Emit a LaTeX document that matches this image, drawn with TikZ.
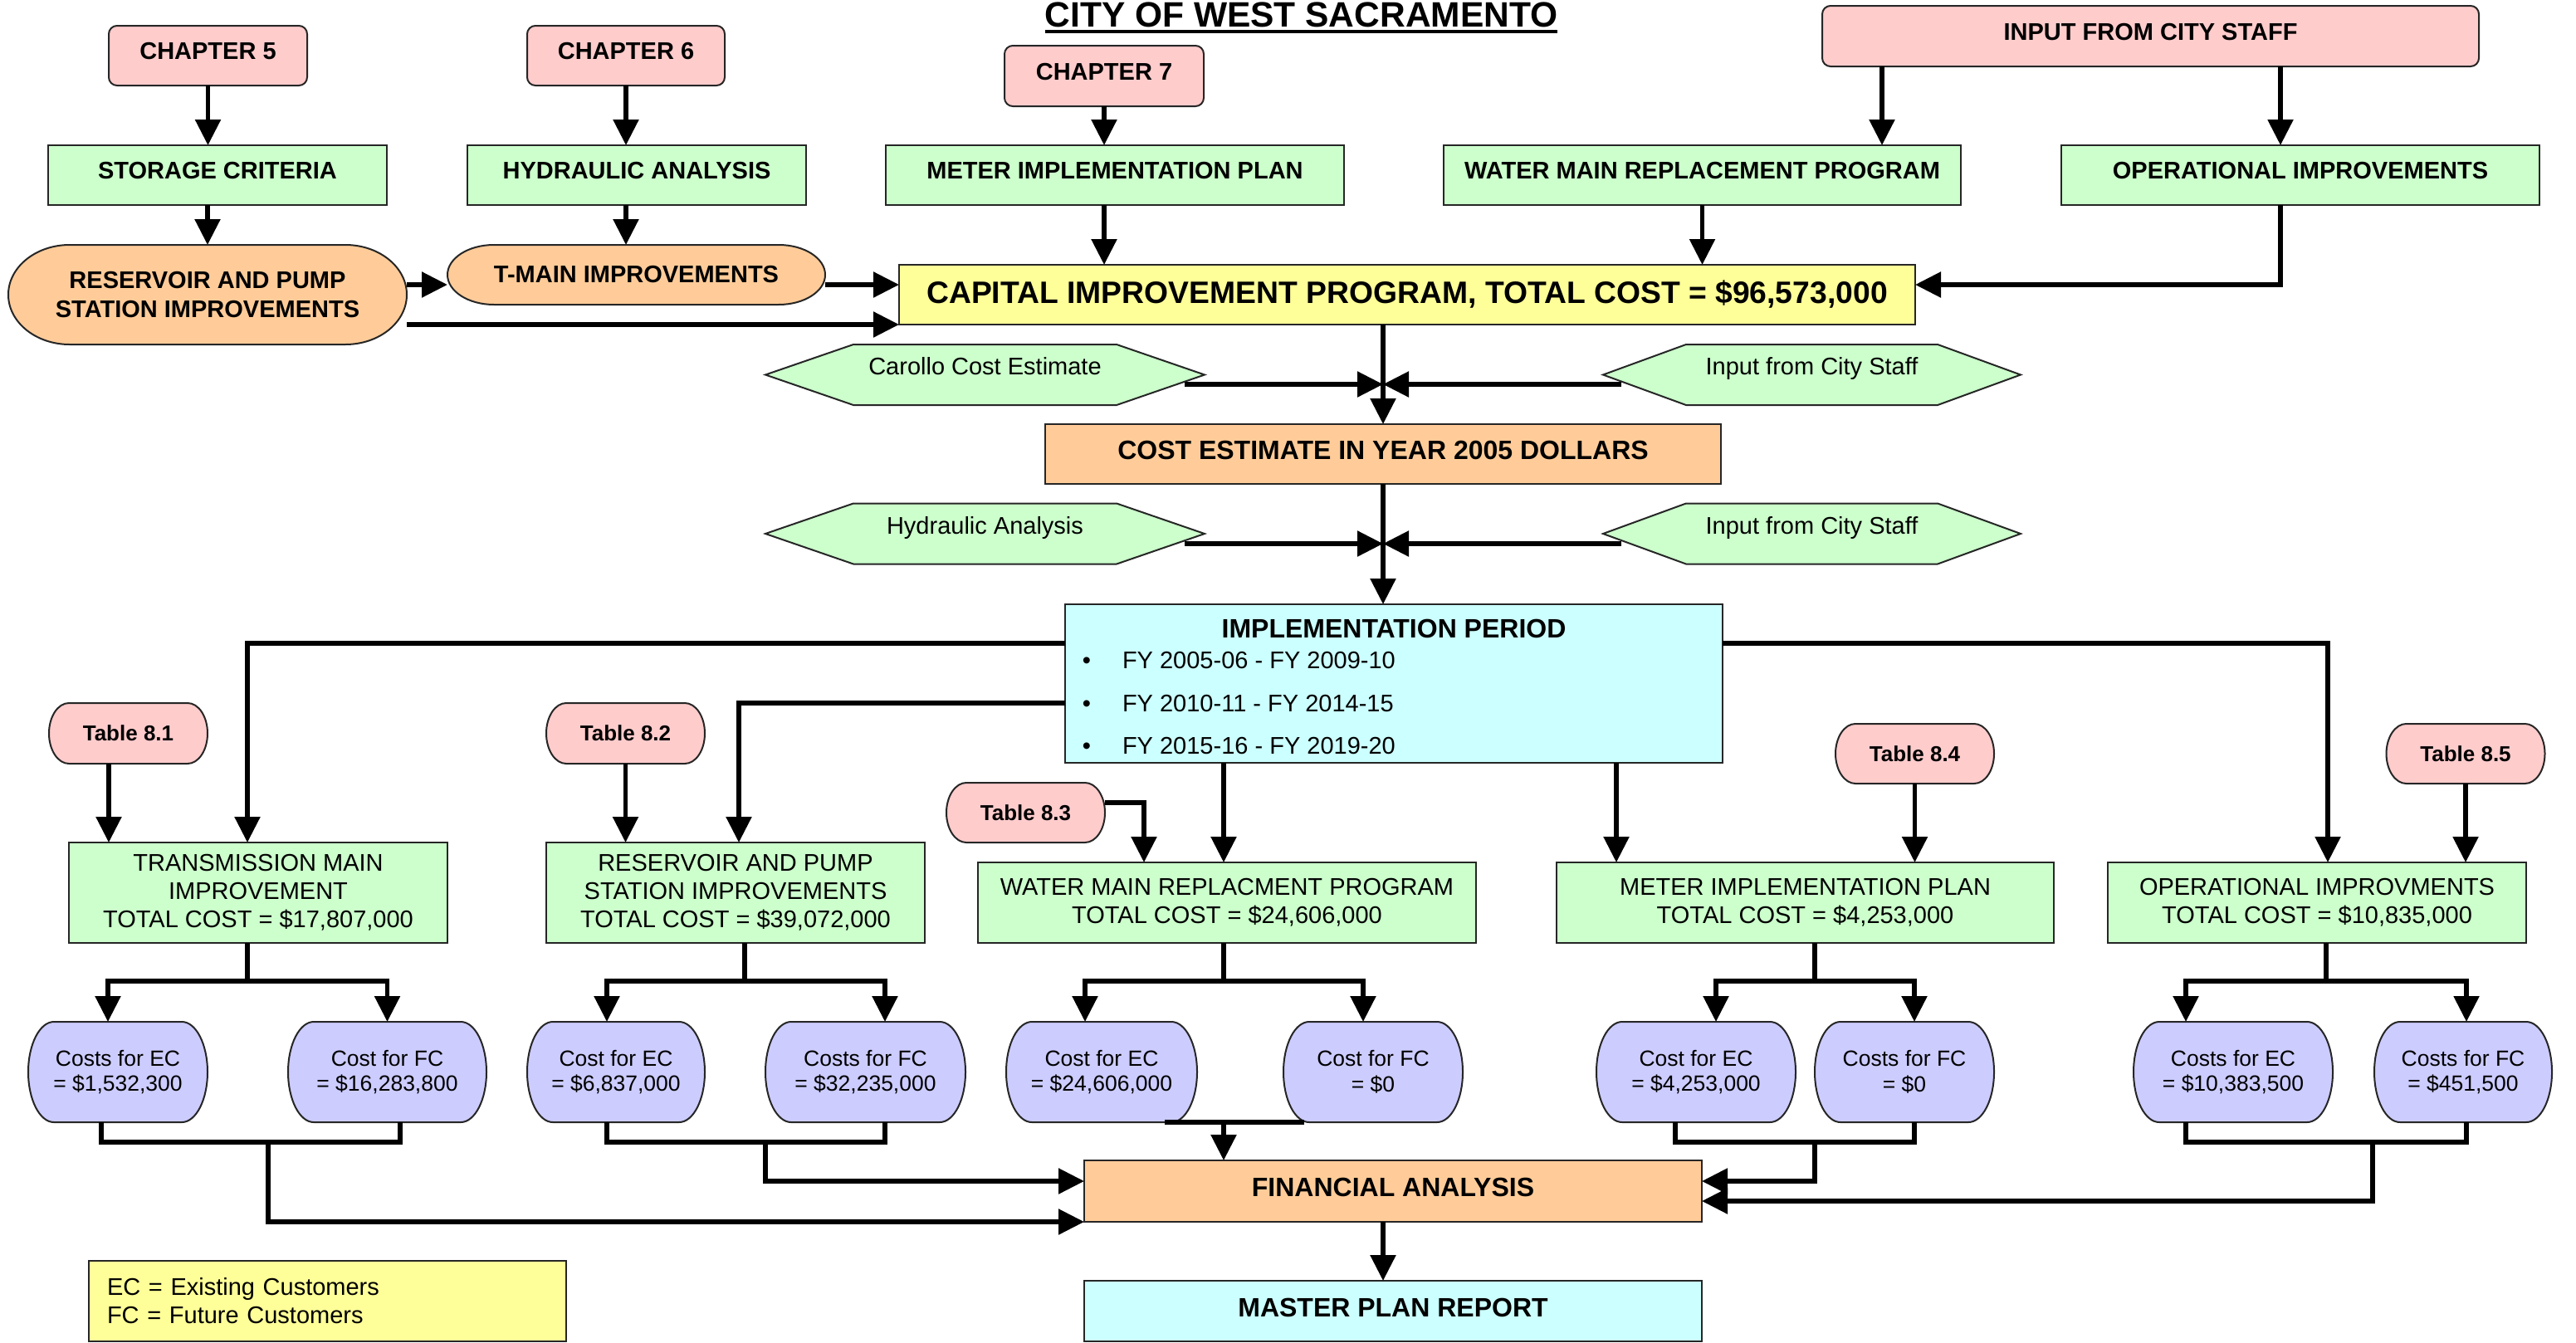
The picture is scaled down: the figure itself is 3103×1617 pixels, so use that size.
\documentclass[tikz,border=0pt]{standalone}
\usepackage{fontspec}
\setmainfont{Liberation Sans}
\usetikzlibrary{arrows.meta}

\definecolor{pinkF}{HTML}{FFCCCC}
\definecolor{greenF}{HTML}{CCFFCC}
\definecolor{orangeF}{HTML}{FFCC99}
\definecolor{yellowF}{HTML}{FFFF99}
\definecolor{cyanF}{HTML}{CCFFFF}
\definecolor{purpleF}{HTML}{CCCCFF}

% font sizes
\newcommand\szT{\fontsize{21.25}{25}\selectfont\bfseries}
\newcommand\szH{\fontsize{18.65}{22}\selectfont\bfseries}
\newcommand\szB{\fontsize{16}{19}\selectfont\bfseries}
\newcommand\szL{\fontsize{14.5}{17.5}\selectfont\bfseries}
\newcommand\szN{\fontsize{14.5}{17}\selectfont}
\newcommand\szC{\fontsize{13.25}{15.25}\selectfont}
\newcommand\szS{\fontsize{13}{15}\selectfont\bfseries}

% pill with elliptical ends: name, fill, cx, cy, w, h, end radius, font, text
\newcommand\pillnode[9]{%
  \pgfmathsetmacro\shL{#3-#5/2}\pgfmathsetmacro\shR{#3+#5/2}%
  \pgfmathsetmacro\shT{#4-#6/2}\pgfmathsetmacro\shB{#4+#6/2}%
  \pgfmathsetmacro\shLi{\shL+#7}\pgfmathsetmacro\shRi{\shR-#7}%
  \pgfmathsetmacro\shKx{0.5523*#7}\pgfmathsetmacro\shKy{0.5523*#6/2}%
  \filldraw[shapeline, fill=#2] (\shLi,\shT) -- (\shRi,\shT)
     .. controls (\shRi+\shKx,\shT) and (\shR,#4-\shKy) .. (\shR,#4)
     .. controls (\shR,#4+\shKy) and (\shRi+\shKx,\shB) .. (\shRi,\shB)
     -- (\shLi,\shB)
     .. controls (\shLi-\shKx,\shB) and (\shL,#4+\shKy) .. (\shL,#4)
     .. controls (\shL,#4-\shKy) and (\shLi-\shKx,\shT) .. (\shLi,\shT) -- cycle;
  \node[txt, wh={#5}{#6}, font=#8] (#1) at (#3,#4) {#9};
}

% flat hexagon: name, cx, cy, w, h, slant, text
\newcommand\hexnode[7]{%
  \pgfmathsetmacro\shL{#2-#4/2}\pgfmathsetmacro\shR{#2+#4/2}%
  \pgfmathsetmacro\shT{#3-#5/2}\pgfmathsetmacro\shB{#3+#5/2}%
  \filldraw[shapeline, fill=greenF] (\shL,#3) -- (\shL+#6,\shT) -- (\shR-#6,\shT)
     -- (\shR,#3) -- (\shR-#6,\shB) -- (\shL+#6,\shB) -- cycle;
  \node[txt, wh={#4}{#5}, font=\szN, tc={10.4pt}{10.4pt}] (#1) at (#2,#3) {#7};
}

\begin{document}
\begin{tikzpicture}[x=0.5pt, y=-0.5pt,
  txt/.style={inner sep=0pt, outer sep=0pt, align=center, text=black},
  wh/.style 2 args={minimum width=#1*0.5pt, minimum height=#2*0.5pt},
  tc/.style 2 args={text height=#1, text depth=#2},
  bframe/.style={draw=black!85, line width=1pt},
  shapeline/.style={draw=black!85, line width=1pt},
  chap/.style={txt, bframe, fill=pinkF, rounded corners=5pt, font=\szL, tc={10.4pt}{5.5pt}},
  gtop/.style={txt, bframe, fill=greenF, font=\szL, tc={10.4pt}{6pt}},
  gbot/.style={txt, bframe, fill=greenF, font=\szN},
  conn/.style={line width=2.75pt, black},
  arr/.style={conn, -{Triangle[length=15.5pt,width=15pt]}}]

\useasboundingbox (0,0) rectangle (3103,1617);

% title
\node[txt, font=\szT, anchor=base] (title) at (1567.5,32) {CITY OF WEST SACRAMENTO};
\draw[line width=2pt] ([yshift=-3pt]title.base west) -- ([yshift=-3pt]title.base east);

% sources
\node[chap, wh={239}{72}] (ch5) at (250.5,67) {CHAPTER 5};
\node[chap, wh={238}{72}] (ch6) at (754,67) {CHAPTER 6};
\node[chap, wh={240}{73}] (ch7) at (1330,91.5) {CHAPTER 7};
\node[chap, wh={791}{73}] (staff) at (2590.5,43.5) {INPUT FROM CITY STAFF};

\node[gtop, wh={408}{72}] (sc) at (262,211) {STORAGE CRITERIA};
\node[gtop, wh={408}{72}] (ha) at (767,211) {HYDRAULIC ANALYSIS};
\node[gtop, wh={552}{72}] (mip) at (1343,211) {METER IMPLEMENTATION PLAN};
\node[gtop, wh={623}{72}] (wmrp) at (2050.5,211) {WATER MAIN REPLACEMENT PROGRAM};
\node[gtop, wh={576}{72}] (oi) at (2771,211) {OPERATIONAL IMPROVEMENTS};

\pillnode{rps}{orangeF}{250}{355}{480}{120}{74}{\szL}{RESERVOIR AND PUMP\\STATION IMPROVEMENTS}
\pillnode{tm}{orangeF}{766.5}{331}{455}{72}{56}{\szL}{T-MAIN IMPROVEMENTS}

\node[txt, bframe, fill=yellowF, font=\szH, tc={13.35pt}{2.5pt}, wh={1224}{72}] (cip) at (1695,355)
  {CAPITAL IMPROVEMENT PROGRAM, TOTAL COST = \$96,573,000};

% estimate inputs
\hexnode{cce}{1186.5}{451.5}{529}{73}{106}{Carollo Cost Estimate}
\hexnode{ifs1}{2182.5}{451.5}{503}{73}{100}{Input from City Staff}
\hexnode{hya}{1186.5}{643}{529}{73}{106}{Hydraulic Analysis}
\hexnode{ifs2}{2182.5}{643}{503}{73}{100}{Input from City Staff}

\node[txt, bframe, fill=orangeF, font=\szB, tc={11.5pt}{5pt}, wh={814}{72}] (ce) at (1666,547)
  {COST ESTIMATE IN YEAR 2005 DOLLARS};

% implementation period
\node[txt, bframe, fill=cyanF, wh={792}{191}] (ip) at (1679,823.5) {};
\node[txt, font=\szB, tc={11.5pt}{0pt}] (ipt) at (1679,757) {IMPLEMENTATION PERIOD};
\node[txt, font=\szN, tc={10.4pt}{0pt}] (ipb1) at (1309,795) {\textbullet};
\node[txt, font=\szN, tc={10.4pt}{0pt}] (ipb2) at (1309,847) {\textbullet};
\node[txt, font=\szN, tc={10.4pt}{0pt}] (ipb3) at (1309,898) {\textbullet};
\node[txt, font=\szN, tc={10.4pt}{0pt}, anchor=west] (ipl1) at (1352,795) {FY 2005-06 - FY 2009-10};
\node[txt, font=\szN, tc={10.4pt}{0pt}, anchor=west] (ipl2) at (1352,847) {FY 2010-11 - FY 2014-15};
\node[txt, font=\szN, tc={10.4pt}{0pt}, anchor=west] (ipl3) at (1352,898) {FY 2015-16 - FY 2019-20};

% tables
\pillnode{t81}{pinkF}{154.5}{883.5}{191}{73}{24}{\szS}{Table 8.1}
\pillnode{t82}{pinkF}{753.5}{883.5}{191}{73}{24}{\szS}{Table 8.2}
\pillnode{t83}{pinkF}{1235.5}{979}{191}{72}{24}{\szS}{Table 8.3}
\pillnode{t84}{pinkF}{2306.5}{908}{191}{72}{24}{\szS}{Table 8.4}
\pillnode{t85}{pinkF}{2970}{908}{191}{72}{24}{\szS}{Table 8.5}

% programs
\node[gbot, wh={456}{121}] (tmi) at (311,1075.5) {TRANSMISSION MAIN\\IMPROVEMENT\\TOTAL COST = \$17,807,000};
\node[gbot, wh={456}{121}] (rpsb) at (886,1075.5) {RESERVOIR AND PUMP\\STATION IMPROVEMENTS\\TOTAL COST = \$39,072,000};
\node[gbot, wh={600}{97}] (wmrpb) at (1478,1087.5) {WATER MAIN REPLACMENT PROGRAM\\TOTAL COST = \$24,606,000};
\node[gbot, wh={599}{97}] (mb) at (2174.5,1087.5) {METER IMPLEMENTATION PLAN\\TOTAL COST = \$4,253,000};
\node[gbot, wh={504}{97}] (oib) at (2791,1087.5) {OPERATIONAL IMPROVMENTS\\TOTAL COST = \$10,835,000};

% cost splits
\pillnode{c1}{purpleF}{142}{1291.5}{216}{121}{31}{\szC}{Costs for EC\\= \$1,532,300}
\pillnode{c2}{purpleF}{466.5}{1291.5}{239}{121}{31}{\szC}{Cost for FC\\= \$16,283,800}
\pillnode{c3}{purpleF}{742}{1291.5}{214}{121}{31}{\szC}{Cost for EC\\= \$6,837,000}
\pillnode{c4}{purpleF}{1042.5}{1291.5}{241}{121}{31}{\szC}{Costs for FC\\= \$32,235,000}
\pillnode{c5}{purpleF}{1327}{1291.5}{230}{121}{31}{\szC}{Cost for EC\\= \$24,606,000}
\pillnode{c6}{purpleF}{1654}{1291.5}{216}{121}{31}{\szC}{Cost for FC\\= \$0}
\pillnode{c7}{purpleF}{2043}{1291.5}{240}{121}{31}{\szC}{Cost for EC\\= \$4,253,000}
\pillnode{c8}{purpleF}{2294}{1291.5}{216}{121}{31}{\szC}{Costs for FC\\= \$0}
\pillnode{c9}{purpleF}{2690}{1291.5}{240}{121}{31}{\szC}{Costs for EC\\= \$10,383,500}
\pillnode{c10}{purpleF}{2967}{1291.5}{214}{121}{31}{\szC}{Costs for FC\\= \$451,500}

\node[txt, bframe, fill=orangeF, font=\szB, tc={11.5pt}{5pt}, wh={744}{74}] (fa) at (1678,1435) {FINANCIAL ANALYSIS};
\node[txt, bframe, fill=cyanF, font=\szB, tc={11.5pt}{5pt}, wh={744}{73}] (mpr) at (1678,1579.5) {MASTER PLAN REPORT};

\node[txt, bframe, fill=yellowF, font=\szN, wh={575}{97}, align=left, text width=265.5pt, inner xsep=11pt] (leg) at (394.5,1567.5)
  {EC = Existing Customers\\FC = Future Customers};

% ---- connectors: top part
\draw[arr] (ch5.south) -- (ch5.south |- sc.north);
\draw[arr] (sc.south -| rps.north) -- (rps.north);
\draw[arr] (ch6.south) -- (ch6.south |- ha.north);
\draw[arr] (ha.south -| ch6.south) -- (ch6.south |- tm.north);
\draw[arr] (ch7.south) -- (ch7.south |- mip.north);
\draw[arr] (mip.south -| ch7.south) -- (ch7.south |- cip.north);
\coordinate (s1) at ([xshift=36pt]staff.south west);
\coordinate (s2) at ([xshift=-119.5pt]staff.south east);
\draw[arr] (s1) -- (s1 |- wmrp.north);
\draw[arr] (s2) -- (s2 |- oi.north);
\draw[arr] (wmrp.south) -- (wmrp.south |- cip.north);
\coordinate (cipE) at ([yshift=6pt]cip.east);
\draw[arr] (s2 |- oi.south) -- (s2 |- cipE) -- (cipE);

\coordinate (tmW) at ([yshift=-6pt]tm.west);
\draw[arr] (tmW -| rps.east) -- (tmW);
\coordinate (cipW) at ([yshift=6pt]cip.west);
\draw[arr] (cipW -| tm.east) -- (cipW);
\draw[arr] (cip.south west -| rps.east) -- (cip.south west);

% ---- estimate column
\coordinate (j1) at ([yshift=24pt]ce.north);
\coordinate (j2) at ([yshift=-36pt]ce.south);
\draw[arr] (cip.south -| ce.north) -- (ce.north);
\draw[arr] ([xshift=-12pt,yshift=-5.75pt]cce.east) -- (j1);
\draw[arr] ([xshift=11pt,yshift=-5.75pt]ifs1.west) -- (j1);
\draw[arr] ([xshift=-12pt,yshift=-6pt]hya.east) -- (j2);
\draw[arr] ([xshift=11pt,yshift=-6pt]ifs2.west) -- (j2);
\draw[arr] (ce.south) -- (ce.south |- ip.north);

% ---- implementation period to programs
\draw[arr] ([yshift=24.25pt]ip.west) -| ([xshift=-6.5pt]tmi.north);
\draw[arr] ([yshift=-11.75pt]ip.west) -| ([xshift=2pt]rpsb.north);
\draw[arr] ([yshift=24.25pt]ip.east) -| ([xshift=6.5pt]oib.north);
\coordinate (w1) at ([xshift=-2pt]wmrpb.north);
\coordinate (m1) at ([xshift=-113.75pt]mb.north);
\draw[arr] (ip.south -| w1) -- (w1);
\draw[arr] (ip.south -| m1) -- (m1);

% ---- tables to programs
\coordinate (a81) at ([xshift=24pt]tmi.north west);
\draw[arr] (t81.south -| a81) -- (a81);
\draw[arr] (t82.south) -- (t82.south |- rpsb.north);
\draw[arr] ([yshift=6pt]t83.east) -| ([xshift=100pt]wmrpb.north west);
\draw[arr] (t84.south) -- (t84.south |- mb.north);
\draw[arr] (t85.south) -- (t85.south |- oib.north);

% ---- programs split into EC / FC costs
\coordinate (f1) at ([xshift=-6.5pt]tmi.south);
\draw[arr] (f1) -- ++(0,46) -| ([xshift=-6pt]c1.north);
\draw[arr] (f1) -- ++(0,46) -| (c2.north);
\coordinate (f2) at ([xshift=5.5pt]rpsb.south);
\draw[arr] (f2) -- ++(0,46) -| ([xshift=-5.5pt]c3.north);
\draw[arr] (f2) -- ++(0,46) -| ([xshift=11.75pt]c4.north);
\coordinate (f3) at ([xshift=-2pt]wmrpb.south);
\draw[arr] (f3) -- ++(0,46) -| ([xshift=-10pt]c5.north);
\draw[arr] (f3) -- ++(0,46) -| ([xshift=-6pt]c6.north);
\coordinate (f4) at ([xshift=5.75pt]mb.south);
\draw[arr] (f4) -- ++(0,46) -| ([xshift=12pt]c7.north);
\draw[arr] (f4) -- ++(0,46) -| ([xshift=6pt]c8.north);
\coordinate (f5) at ([xshift=5.5pt]oib.south);
\draw[arr] (f5) -- ++(0,46) -| ([xshift=-28.5pt]c9.north);
\draw[arr] (f5) -- ++(0,46) -| ([xshift=2pt]c10.north);

% ---- costs merge into financial analysis
\draw[conn] ([xshift=-10pt]c1.south) -- ++(0,24) -| ([xshift=7.75pt]c2.south);
\coordinate (g1) at ([xshift=90.5pt,yshift=-12pt]c1.south);
\draw[arr] (g1) |- (fa.south west);

\draw[conn] ([xshift=-5.5pt]c3.south) -- ++(0,24) -| ([xshift=11.75pt]c4.south);
\coordinate (g2) at ([xshift=90pt,yshift=-12pt]c3.south);
\draw[arr] (g2) |- ([yshift=6pt]fa.west);

\draw[conn] ([xshift=38pt]c5.south) -- ([xshift=-41.5pt]c6.south);
\draw[arr] (w1 |- c5.south) -- (w1 |- fa.north);

\draw[conn] ([xshift=-12.5pt]c7.south) -- ++(0,24) -| ([xshift=6pt]c8.south);
\coordinate (g4) at ([xshift=-54pt,yshift=-12pt]c8.south);
\draw[arr] (g4) |- ([yshift=6pt]fa.east);

\draw[conn] ([xshift=-28.5pt]c9.south) -- ++(0,24) -| ([xshift=2pt]c10.south);
\coordinate (g5) at ([xshift=-54.5pt,yshift=-12pt]c10.south);
\draw[arr] (g5) |- ([yshift=-6pt]fa.east);

\draw[arr] ([xshift=-6pt]fa.south) -- ([xshift=-6pt]mpr.north);

\end{tikzpicture}
\end{document}
